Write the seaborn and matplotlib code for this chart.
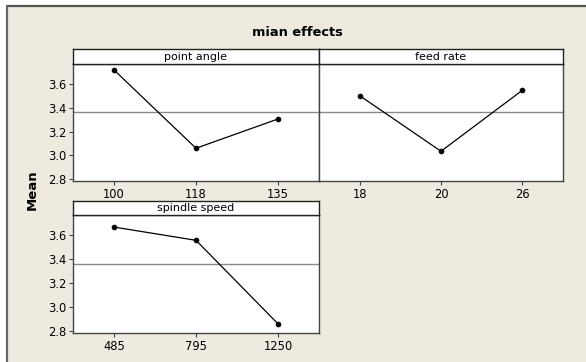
import matplotlib
matplotlib.use("Agg")
import matplotlib.pyplot as plt
import seaborn as sns
import pandas as pd
import numpy as np
from matplotlib.patches import Rectangle
from matplotlib.lines import Line2D

# ---- data ----
factors = ["point angle", "feed rate", "spindle speed"]
point_angle_levels = ["100", "118", "135"]
point_angle_means = [3.715, 3.06, 3.305]
feed_rate_levels = ["18", "20", "26"]
feed_rate_means = [3.50, 3.035, 3.545]
spindle_speed_levels = ["485", "795", "1250"]
spindle_speed_means = [3.665, 3.555, 2.862]
y_ticks = [2.8, 3.0, 3.2, 3.4, 3.6]
title = "mian effects"
ylabel = "Mean"

levels = [point_angle_levels, feed_rate_levels, spindle_speed_levels]
means = [point_angle_means, feed_rate_means, spindle_speed_means]
rows = []
for f, lv, mv in zip(factors, levels, means):
    for l, m in zip(lv, mv):
        rows.append({"factor": f, "level": l, "mean": m})
df = pd.DataFrame(rows)
grand_mean = df["mean"].mean()

sns.set_style("white")
plt.rcParams["font.family"] = ["DejaVu Sans"]
plt.rcParams["text.color"] = "black"
plt.rcParams["xtick.color"] = "black"
plt.rcParams["ytick.color"] = "black"

W, H = 586, 362
fig = plt.figure(figsize=(W / 100, H / 100), dpi=100, facecolor="white")

bg = "#EEEAE0"
fig.patches.append(Rectangle((7 / W, 0), 1 - 7 / W, 1 - 6 / H, transform=fig.transFigure,
                             facecolor=bg, edgecolor="none", zorder=-10))
fig.lines.append(Line2D([7 / W, 1], [1 - 6 / H, 1 - 6 / H], transform=fig.transFigure,
                        color="#555555", lw=1.6, zorder=-5))
fig.lines.append(Line2D([7 / W, 7 / W], [0, 1 - 6 / H], transform=fig.transFigure,
                        color="#666666", lw=1.6, zorder=-5))

def px(x0, y0, x1, y1):
    return [x0 / W, 1 - y1 / H, (x1 - x0) / W, (y1 - y0) / H]

panels = [
    (px(73, 64, 319, 181), px(73, 49, 319, 64), True),
    (px(319, 64, 563, 181), px(319, 49, 563, 64), False),
    (px(73, 215, 319, 333), px(73, 201, 319, 215), True),
]

edge = "#444444"
for (pos, spos, show_y), f, lv in zip(panels, factors, levels):
    ax = fig.add_axes(pos)
    ax.set_facecolor("white")
    sub = df[df["factor"] == f]
    ax.axhline(grand_mean, color="#8a8a8a", lw=1.0, zorder=1)
    sns.pointplot(data=sub, x="level", y="mean", order=lv, color="black",
                  errorbar=None, markersize=3.4, linewidth=0.9, ax=ax, zorder=3)
    ax.set_xlim(-0.5, 2.5)
    ax.set_ylim(2.786, 3.765)
    ax.set_xlabel("")
    ax.set_ylabel("")
    ax.set_yticks(y_ticks)
    if show_y:
        ax.set_yticklabels([f"{v:.1f}" for v in y_ticks])
        ax.tick_params(axis="y", left=True, length=3, width=0.8, color=edge, labelsize=8.3, pad=2)
    else:
        ax.tick_params(axis="y", left=False, labelleft=False)
    ax.tick_params(axis="x", bottom=True, length=3, width=0.8, color=edge, labelsize=8.3, pad=2)
    for s in ax.spines.values():
        s.set_color(edge)
        s.set_linewidth(1.0)
        s.set_visible(True)

    sax = fig.add_axes(spos)
    sax.set_facecolor("white")
    sax.set_xticks([])
    sax.set_yticks([])
    for s in sax.spines.values():
        s.set_color("#222222")
        s.set_linewidth(1.0)
        s.set_visible(True)
    sax.text(0.5, 0.5, f, ha="center", va="center", fontsize=8, transform=sax.transAxes)

fig.text(297 / W, 1 - 32 / H, title, ha="center", va="center", fontsize=9.4, fontweight="bold")
fig.text(32 / W, 1 - 190 / H, ylabel, ha="center", va="center", rotation=90,
         fontsize=9.5, fontweight="bold")

fig.savefig("out.png", dpi=100, facecolor="white")
